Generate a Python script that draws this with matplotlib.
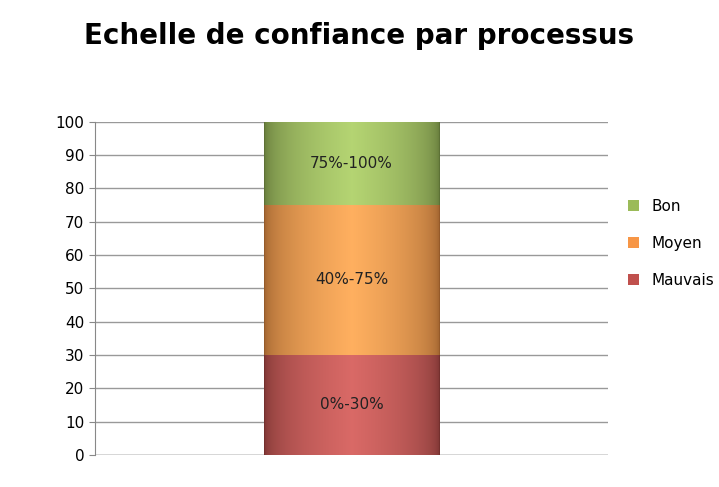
import matplotlib.pyplot as plt
import matplotlib.colors as mcolors
import numpy as np

# Confidence scale per process
categories = ["Mauvais", "Moyen", "Bon"]
values = [30, 45, 25]
labels = ["0%-30%", "40%-75%", "75%-100%"]
colors = ["#c0504d", "#f79646", "#9bbb59"]

fig = plt.figure(figsize=(7.19, 4.87), dpi=100)
ax = fig.add_axes([0.132, 0.066, 0.714, 0.684])

bottom = 0
handles = []
for cat, val, lab, col in zip(categories, values, labels, colors):
    bars = ax.bar(0, val, bottom=bottom, width=0.341, color=col, label=cat, zorder=2)
    patch = bars[0]
    # horizontal gradient: dark at edges, light in the middle
    base = np.array(mcolors.to_rgb(col))
    t = np.linspace(-1, 1, 200)
    shade = 1 - np.abs(t)
    light = np.clip(base + 0.1, 0, 1)
    dark = base * 0.6
    grad = dark[None, :] + (light - dark)[None, :] * shade[:, None] ** 0.4
    img = ax.imshow(grad[None, :, :], extent=(-0.1705, 0.1705, bottom, bottom + val),
                    aspect="auto", zorder=3)
    img.set_clip_path(patch)
    ax.text(0, bottom + val / 2, lab, ha="center", va="center", fontsize=11,
            color="#222222", zorder=4)
    handles.append(patch)
    bottom += val

ax.set_xlim(-0.5, 0.5)
ax.set_ylim(0, 100)
ax.set_yticks(range(0, 101, 10))
ax.set_xticks([])
ax.tick_params(axis="y", labelsize=11, length=4, color="#888888")
ax.grid(axis="y", color="#999999", linewidth=1, zorder=0)
for s in ["top", "right", "bottom"]:
    ax.spines[s].set_visible(False)
ax.spines["left"].set_color("#888888")
ax.axhline(0, color="#888888", linewidth=1, zorder=1)

fig.legend(handles[::-1], categories[::-1], loc="center left",
           bbox_to_anchor=(0.855, 0.5), frameon=False, fontsize=11,
           handlelength=0.7, handleheight=0.7, labelspacing=1.45)

fig.suptitle("Echelle de confiance par processus", fontsize=20, fontweight="bold", y=0.955)
fig.savefig("out.png", dpi=100)
